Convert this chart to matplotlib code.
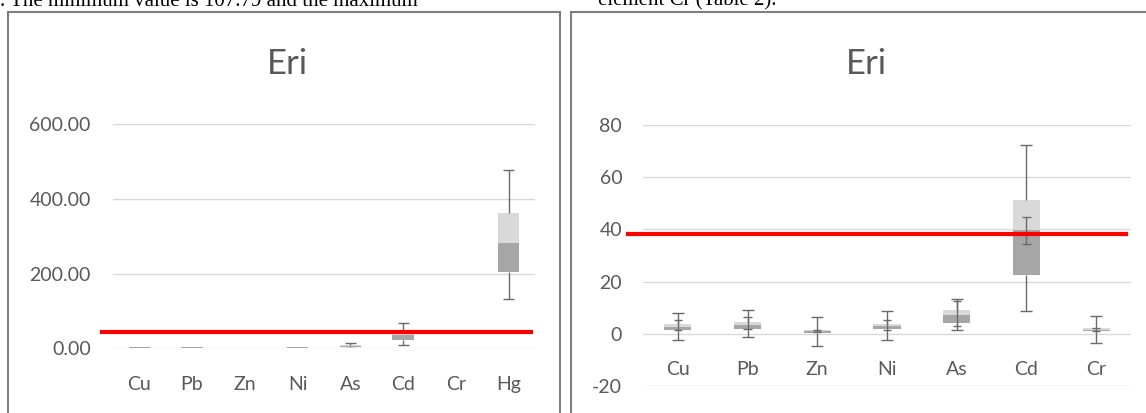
import matplotlib
matplotlib.use("Agg")
import matplotlib.pyplot as plt
import numpy as np
from matplotlib.patches import Rectangle

# Datos de los diagramas de caja (Eri)
elem_izq = ["Cu", "Pb", "Zn", "Ni", "As", "Cd", "Cr", "Hg"]
min_izq = [np.nan, np.nan, np.nan, np.nan, 1.5, 9.0, np.nan, 131.5]
q1_izq = [1.5, 1.9, np.nan, 1.9, 4.1, 22.0, np.nan, 203.5]
med_izq = [2.7, 3.2, np.nan, 2.8, 7.3, 36.0, np.nan, 283.0]
q3_izq = [3.8, 4.5, np.nan, 3.8, 9.3, 42.0, np.nan, 363.0]
max_izq = [np.nan, np.nan, np.nan, np.nan, 13.4, 69.0, np.nan, 477.0]
limite_izq = 42.7

elem_der = ["Cu", "Pb", "Zn", "Ni", "As", "Cd", "Cr"]
min_der = [-2.4, -1.4, -4.7, -2.3, 1.5, 8.7, -3.6]
q1_der = [1.5, 1.9, 0.4, 1.9, 4.1, 22.7, 0.9]
med_der = [2.7, 3.2, 1.1, 2.8, 7.3, 39.6, 1.5]
q3_der = [3.8, 4.5, 1.5, 3.8, 9.3, 51.3, 2.4]
max_der = [8.0, 9.2, 6.3, 8.6, 13.4, 72.5, 6.8]
sec_bajo = [1.5, 2.0, 0.6, 1.5, 2.8, 34.5, 0.9]
sec_alto = [5.3, 6.4, 1.6, 5.4, 12.5, 44.9, 2.2]
limite_der = 38.3

GRIS_TXT = "#595959"
GRIS_OSC = "#a6a6a6"
GRIS_CLA = "#d9d9d9"
GRIS_LIN = "#6a6a6a"

plt.rcParams["font.family"] = ["Lato", "DejaVu Sans"]
plt.rcParams["axes.unicode_minus"] = False

W, H = 1146, 413
fig = plt.figure(figsize=(W / 100, H / 100), dpi=100)


def px(x0, y0, x1, y1):
    # rectangulo en pixeles (origen arriba a la izquierda) -> fracciones
    return [x0 / W, 1 - y1 / H, (x1 - x0) / W, (y1 - y0) / H]


def cajas(ax, q1, med, q3, mn, mx, ancho, cap):
    x = np.arange(len(q1))
    q1 = np.array(q1); med = np.array(med); q3 = np.array(q3)
    ax.bar(x, med - q1, bottom=q1, width=ancho, color=GRIS_OSC, zorder=2)
    ax.bar(x, q3 - med, bottom=med, width=ancho, color=GRIS_CLA, zorder=2)
    for i in x:
        if not np.isnan(mx[i]):
            ax.vlines(i, q3[i], mx[i], color=GRIS_LIN, lw=1.0, zorder=3)
            ax.hlines(mx[i], i - cap, i + cap, color=GRIS_LIN, lw=1.0, zorder=3)
        if not np.isnan(mn[i]):
            ax.vlines(i, mn[i], q1[i], color=GRIS_LIN, lw=1.0, zorder=3)
            ax.hlines(mn[i], i - cap, i + cap, color=GRIS_LIN, lw=1.0, zorder=3)


def estilo(ax, etiquetas, pad_y):
    for s in ax.spines.values():
        s.set_visible(False)
    ax.set_xticks([])
    ax.tick_params(axis="y", length=0, pad=pad_y, labelsize=14, labelcolor=GRIS_TXT)
    ax.grid(axis="y", color=GRIS_CLA, lw=1.0, zorder=0)
    ax.set_axisbelow(True)
    ax.set_xlim(-0.5, len(etiquetas) - 0.5)
    for i, e in enumerate(etiquetas):
        ax.annotate(e, (i, 0), xytext=(0, -26), textcoords="offset points",
                    ha="center", va="center", fontsize=14, color=GRIS_TXT)


# marcos de los dos graficos
fig.add_artist(Rectangle((7.5 / W, -0.05), (560 - 7.5) / W, 1.05 - 12 / H,
                         transform=fig.transFigure, fill=False,
                         edgecolor="#7f7f7f", lw=1.5))
fig.add_artist(Rectangle((571 / W, -0.05), (1150 - 571) / W, 1.05 - 12.5 / H,
                         transform=fig.transFigure, fill=False,
                         edgecolor="#7f7f7f", lw=1.5))

# texto del documento, cortado en el borde superior
fig.text(0.0, 1 - 5.5 / H, ". The minimum value is 107.79 and the maximum",
         family="Liberation Serif", fontsize=15, va="baseline", ha="left")
fig.text(598 / W, 1 - 5.5 / H, "element Cr (Table 2).",
         family="Liberation Serif", fontsize=15, va="baseline", ha="left")

# grafico izquierdo
ax1 = fig.add_axes(px(113, 124.3, 535, 348.3))
ax1.set_ylim(0, 600)
ax1.set_yticks([0, 200, 400, 600])
ax1.yaxis.set_major_formatter(matplotlib.ticker.FormatStrFormatter("%.2f"))
cajas(ax1, q1_izq, med_izq, q3_izq, min_izq, max_izq, 0.41, 0.105)
estilo(ax1, elem_izq, 16)
ax1.plot([-0.71, 7.42], [limite_izq, limite_izq], color="red", lw=3,
         clip_on=False, zorder=4)
fig.text(287 / W, 1 - 64 / H, "Eri", ha="center", va="center",
         fontsize=25, color=GRIS_TXT)

# grafico derecho
ax2 = fig.add_axes(px(643, 125, 1131, 386))
ax2.set_ylim(-20, 80)
ax2.set_yticks([-20, 0, 20, 40, 60, 80])
cajas(ax2, q1_der, med_der, q3_der, min_der, max_der, 0.39, 0.086)
x2 = np.arange(len(elem_der))
for i in x2:
    ax2.vlines(i, sec_bajo[i], sec_alto[i], color=GRIS_LIN, lw=1.0, zorder=3)
    ax2.hlines([sec_bajo[i], sec_alto[i]], i - 0.06, i + 0.06,
               color=GRIS_LIN, lw=1.0, zorder=3)
estilo(ax2, elem_der, 15)
ax2.plot([-0.71, 6.43], [limite_der, limite_der], color="red", lw=3,
         clip_on=False, zorder=4)
fig.text(866 / W, 1 - 64 / H, "Eri", ha="center", va="center",
         fontsize=25, color=GRIS_TXT)

fig.savefig("out.png", dpi=100)
